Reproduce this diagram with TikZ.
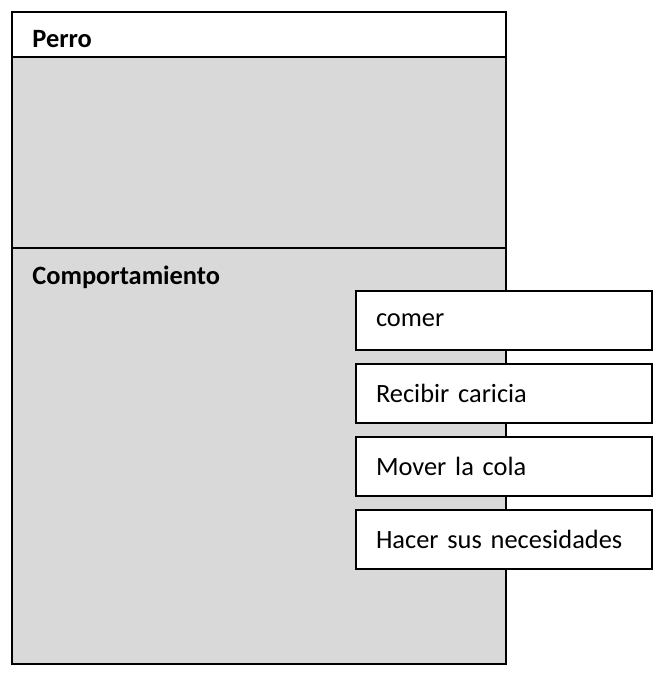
\documentclass[tikz,border=0pt]{standalone}
\usepackage{fontspec}
\setmainfont{Carlito}
\usepackage{xcolor}
\usetikzlibrary{positioning}
\definecolor{bodygray}{HTML}{D9D9D9}

\begin{document}
\begin{tikzpicture}[x=0.5pt, y=-0.5pt, font=\fontsize{13.2}{16}\selectfont, part/.style={draw, line width=1pt}, title/.style={anchor=base west, inner sep=0pt, font=\fontsize{13.2}{16}\selectfont\bfseries}, method/.style={draw, fill=white, line width=1pt, text width=128pt, inner xsep=10pt, minimum height=29.5pt, align=left}]
\useasboundingbox (0,0) rectangle (661,684);
\draw[part, fill=bodygray] (12,57) rectangle (506,664);
\draw[part, fill=white] (12,12) rectangle (506,57);
\draw[part] (12,248) -- (506,248);
\node[title] (perro) at (32,48) {Perro};
\node[title] (comportamiento) at (32,284) {Comportamiento};
\node[method, anchor=north west] (comer) at (355,290) {comer};
\node[method, below=6pt of comer] (caricia) {Recibir caricia};
\node[method, below=6pt of caricia] (cola) {Mover la cola};
\node[method, below=6pt of cola] (necesidades) {Hacer sus necesidades};
\end{tikzpicture}
\end{document}
